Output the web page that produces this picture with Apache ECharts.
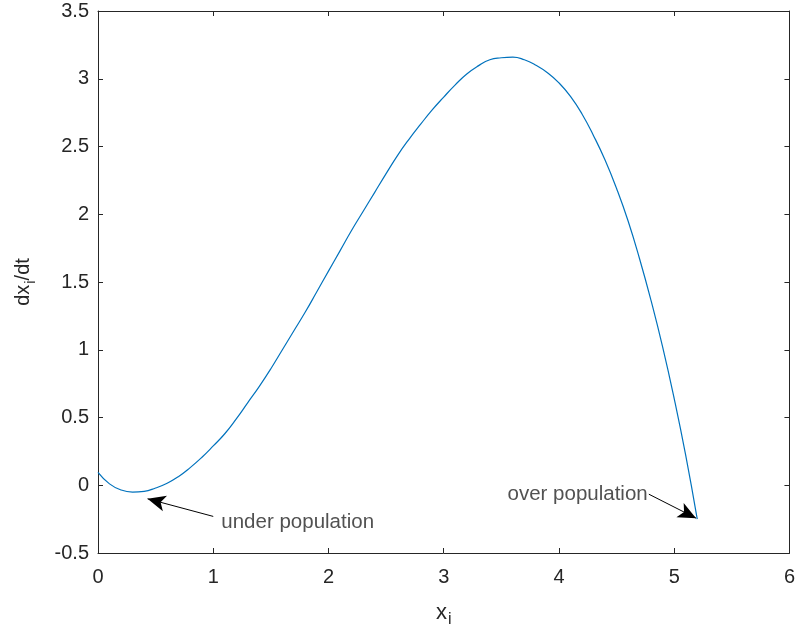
<!DOCTYPE html>
<html>
<head>
<meta charset="utf-8">
<script src="https://cdn.jsdelivr.net/npm/echarts@6/dist/echarts.min.js"></script>
<style>
  html, body { margin: 0; padding: 0; background: #fff; }
  #main { width: 798px; height: 634px; }
</style>
</head>
<body>
<div id="main"></div>
<script>
// values, step 0.1
var xs = [0, 0.1, 0.2, 0.3, 0.4, 0.5, 0.6, 0.7, 0.8, 0.9, 1.0, 1.1, 1.2, 1.3, 1.4, 1.5, 1.6, 1.7,
  1.8, 1.9, 2.0, 2.1, 2.2, 2.3, 2.4, 2.5, 2.6, 2.7, 2.8, 2.9, 3.0, 3.1, 3.2, 3.3, 3.4, 3.5,
  3.6, 3.7, 3.8, 3.9, 4.0, 4.1, 4.2, 4.3, 4.4, 4.5, 4.6, 4.7, 4.8, 4.9, 5.0, 5.1, 5.2];
var ys = [0.095, 0.01, -0.035, -0.05, -0.045, -0.02, 0.015, 0.065, 0.13, 0.205, 0.29, 0.38, 0.49,
  0.61, 0.73, 0.86, 1.00, 1.14, 1.28, 1.43, 1.58, 1.73, 1.88, 2.02, 2.16, 2.30, 2.435, 2.555, 2.665,
  2.77, 2.865, 2.955, 3.035, 3.095, 3.14, 3.155, 3.16, 3.14, 3.10, 3.045, 2.97, 2.87, 2.74, 2.58, 2.40,
  2.19, 1.95, 1.67, 1.36, 1.02, 0.64, 0.22, -0.25];

// annotations: [text, textX, textY, arrowFrom, arrowTo]
var notes = [
  ['under population', 1.07, -0.275, [1.0, -0.23], [0.43, -0.1]],
  ['over population', 4.77, -0.07, [4.78, -0.066], [5.19, -0.243]]
];

var axisColor = '#262626';
var font = 'Liberation Sans, Arial, Helvetica, sans-serif';

var chartDom = document.getElementById('main');
var myChart = echarts.init(chartDom);

var points = xs.map(function (x, i) { return [x, ys[i]]; });

var arrowLines = notes.map(function (n) {
  return [{ coord: n[3] }, { coord: n[4] }];
});

var option = {
  animation: false,
  grid: {
    left: 98,
    right: 7,
    top: 11,
    bottom: 81
  },
  xAxis: [
    {
      type: 'value',
      min: 0,
      max: 6,
      interval: 1,
      name: 'x{sub|i}',
      nameLocation: 'middle',
      nameGap: 45,
      nameTextStyle: {
        color: axisColor, fontSize: 22, fontFamily: font,
        rich: { sub: { fontSize: 16, color: axisColor, fontFamily: font, padding: [14, 0, 0, 1] } }
      },
      axisLine: { show: true, onZero: false, lineStyle: { color: axisColor, width: 1 } },
      axisTick: { show: true, inside: true, length: 5, lineStyle: { color: axisColor } },
      axisLabel: { color: axisColor, fontSize: 20, fontFamily: font, margin: 14 },
      splitLine: { show: false }
    },
    {
      type: 'value',
      position: 'top',
      min: 0,
      max: 6,
      interval: 1,
      axisLine: { show: true, onZero: false, lineStyle: { color: axisColor, width: 1 } },
      axisTick: { show: true, inside: true, length: 5, lineStyle: { color: axisColor } },
      axisLabel: { show: false },
      splitLine: { show: false }
    }
  ],
  yAxis: [
    {
      type: 'value',
      min: -0.5,
      max: 3.5,
      interval: 0.5,
      name: 'dx{sub|i}/dt',
      nameLocation: 'middle',
      nameGap: 60,
      nameTextStyle: {
        color: axisColor, fontSize: 20, fontFamily: font,
        rich: { sub: { fontSize: 15, color: axisColor, fontFamily: font, padding: [14, 0, 0, 1] } }
      },
      axisLine: { show: true, onZero: false, lineStyle: { color: axisColor, width: 1 } },
      axisTick: { show: true, inside: true, length: 5, lineStyle: { color: axisColor } },
      axisLabel: { color: axisColor, fontSize: 20, fontFamily: font, margin: 9 },
      splitLine: { show: false }
    },
    {
      type: 'value',
      position: 'right',
      min: -0.5,
      max: 3.5,
      interval: 0.5,
      axisLine: { show: true, onZero: false, lineStyle: { color: axisColor, width: 1 } },
      axisTick: { show: true, inside: true, length: 5, lineStyle: { color: axisColor } },
      axisLabel: { show: false },
      splitLine: { show: false }
    }
  ],
  series: [
    {
      type: 'line',
      data: points,
      smooth: 0.5,
      showSymbol: false,
      lineStyle: { color: '#0072BD', width: 1.2 },
      markLine: {
        silent: true,
        symbol: ['none', 'arrow'],
        symbolSize: [12, 18],
        label: { show: false },
        lineStyle: { color: '#000', width: 1, type: 'solid' },
        data: arrowLines
      }
    },
    {
      type: 'scatter',
      symbolSize: 0,
      silent: true,
      data: notes.map(function (n, i) {
        return {
          value: [n[1], n[2]],
          label: {
            show: true,
            position: i === 0 ? 'right' : 'left',
            distance: 0,
            formatter: n[0],
            color: axisColor,
            fontSize: 20.5,
            fontFamily: font
          }
        };
      })
    }
  ]
};

option && myChart.setOption(option);
</script>
</body>
</html>
